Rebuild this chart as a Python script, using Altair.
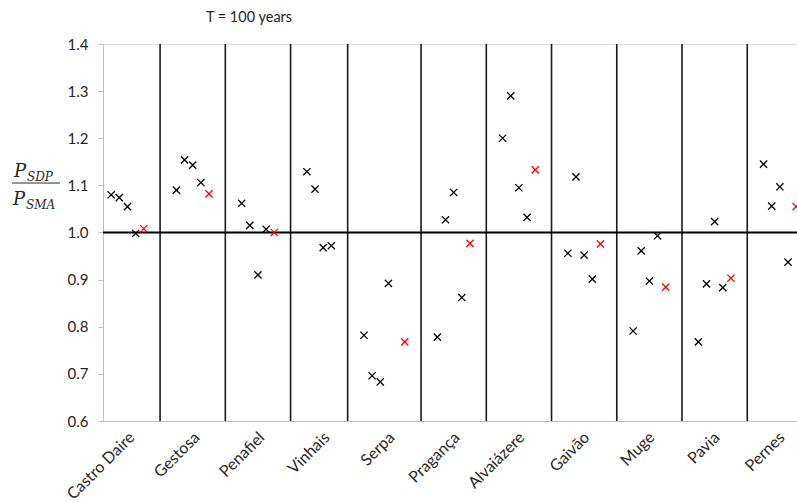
import altair as alt
import pandas as pd

# ---------------- data ----------------
stations = ["Castro Daire", "Gestosa", "Penafiel", "Vinhais", "Serpa", "Pragança",
            "Alvaiázere", "Gaivão", "Muge", "Pavia", "Pernes"]

# x positions (scatter x values) of the black markers for each station
black_x = [[1, 2, 3, 4], [9, 10, 11, 12], [17, 18, 19, 20], [25, 26, 27, 28],
           [32, 33, 34, 35], [41, 42, 43, 44], [49, 50, 51, 52], [57, 58, 59, 60],
           [65, 66, 67, 68], [73, 74, 75, 76], [81, 82, 83, 84]]
black_y = [[1.080, 1.074, 1.055, 0.998],
           [1.090, 1.154, 1.143, 1.106],
           [1.062, 1.015, 0.910, 1.007],
           [1.129, 1.092, 0.968, 0.972],
           [0.782, 0.696, 0.683, 0.892],
           [0.778, 1.027, 1.085, 0.862],
           [1.200, 1.290, 1.095, 1.032],
           [0.956, 1.118, 0.952, 0.901],
           [0.791, 0.961, 0.897, 0.993],
           [0.768, 0.891, 1.023, 0.883],
           [1.145, 1.056, 1.097, 0.937]]

# red markers (Vinhais has none)
red_x = [5, 13, 21, 37, 45, 53, 61, 69, 77, 85]
red_y = [1.008, 1.082, 1.000, 0.768, 0.977, 1.133, 0.976, 0.884, 0.903, 1.055]

separators = [7, 15, 23, 30, 39, 47, 55, 63, 71, 79]
reference_level = [1.0]
y_ticks = [0.6, 0.7, 0.8, 0.9, 1.0, 1.1, 1.2, 1.3, 1.4]
title_text = "T = 100 years"

# ---------------- tables ----------------
rows = []
for xs, ys in zip(black_x, black_y):
    for x, y in zip(xs, ys):
        rows.append({"x": x, "v": y, "kind": "black"})
for x, y in zip(red_x, red_y):
    rows.append({"x": x, "v": y, "kind": "red"})
pts = pd.DataFrame(rows)

FONT = "Lato"
GRAY = "#bfbfbf"
TXT = "#262626"

xscale = alt.Scale(domain=[0, 85.1], nice=False, zero=False)
yscale = alt.Scale(domain=[0.6, 1.4], nice=False, zero=False)

xaxis = alt.Axis(orient="bottom", labels=False, ticks=False, grid=False, title=None,
                 domainColor=GRAY, domainWidth=1)
yaxis = alt.Axis(values=y_ticks, format=".1f", grid=False, title=None,
                 tickSize=5, tickColor=GRAY, domainColor=GRAY, domainWidth=1,
                 labelFont=FONT, labelFontSize=15, labelColor=TXT, labelPadding=10)

vlines = alt.Chart(pd.DataFrame({"x": separators})).mark_rule(
    color="#1a1a1a", strokeWidth=1.6
).encode(x=alt.X("x:Q", scale=xscale, axis=xaxis))

hline = alt.Chart(pd.DataFrame({"y": reference_level})).mark_rule(
    color="black", strokeWidth=2
).encode(y=alt.Y("y:Q", scale=yscale, axis=yaxis))

xshape = "M-1,-1L1,1M-1,1L1,-1"
points = alt.Chart(pts).mark_point(
    shape=xshape, filled=False, size=52, strokeWidth=1.3, opacity=1
).encode(
    x=alt.X("x:Q", scale=xscale, axis=xaxis),
    y=alt.Y("v:Q", scale=yscale, axis=yaxis),
    color=alt.Color("kind:N", scale=alt.Scale(domain=["black", "red"],
                                              range=["#000000", "#ff0000"]), legend=None),
)

labels = alt.Chart(pd.DataFrame({"station": stations})).mark_text(
    angle=315, align="right", baseline="middle", font=FONT, fontSize=16, color=TXT
).encode(
    x=alt.X("station:N", sort=stations,
            scale=alt.Scale(type="point", range=[29, 679], padding=0), axis=None),
    y=alt.value(391),
    text="station:N",
)

title = alt.Chart(pd.DataFrame({"t": [title_text]})).mark_text(
    font=FONT, fontSize=14.5, color=TXT, align="center", baseline="middle"
).encode(text="t:N", x=alt.value(146), y=alt.value(-26))

# y-axis title as a fraction  P_SDP / P_SMA
SERIF = "DejaVu Serif"
frac_parts = []
for txt, xx, yy, fs in [("P", -89, 133, 18), ("SDP", -76, 137, 12),
                        ("P", -90, 161, 18), ("SMA", -77, 165, 12)]:
    frac_parts.append(
        alt.Chart(pd.DataFrame({"t": [txt]})).mark_text(
            font=SERIF, fontStyle="italic", fontSize=fs, color=TXT,
            align="left", baseline="alphabetic"
        ).encode(text="t:N", x=alt.value(xx), y=alt.value(yy))
    )
frac_bar = alt.Chart(pd.DataFrame({"a": [0]})).mark_rule(color=TXT, strokeWidth=1).encode(
    x=alt.value(-91), x2=alt.value(-43), y=alt.value(139)
)

chart = alt.layer(vlines, hline, points, labels, title, frac_bar, *frac_parts).resolve_scale(
    x="independent"
).properties(
    width=694, height=377,
    autosize=alt.AutoSizeParams(type="none"),
    padding={"left": 103, "top": 44, "right": 0, "bottom": 81},
).configure_view(stroke=None).configure(background="white")

chart.save("out.html", embed_options={"renderer": "svg", "actions": False})
